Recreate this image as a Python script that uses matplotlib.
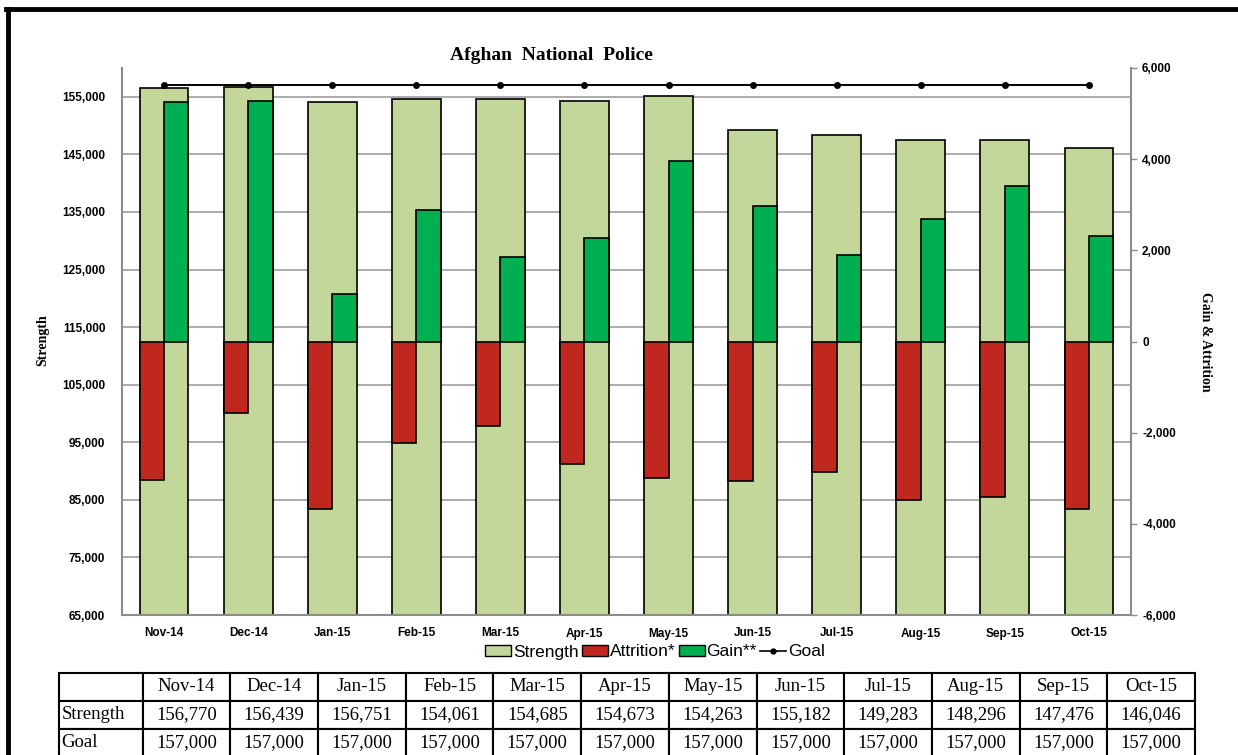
import matplotlib
matplotlib.use('Agg')
import matplotlib.pyplot as plt
from matplotlib.patches import Patch
from matplotlib.lines import Line2D

months = ['Nov-14', 'Dec-14', 'Jan-15', 'Feb-15', 'Mar-15', 'Apr-15',
          'May-15', 'Jun-15', 'Jul-15', 'Aug-15', 'Sep-15', 'Oct-15']
# values as drawn in the chart (bars)
strength = [156440, 156750, 154060, 154690, 154670, 154260,
            155180, 149280, 148300, 147480, 147450, 146050]
goal = [157000, 157000, 157000, 157000, 157000, 157000,
        157000, 157000, 157000, 157000, 157000, 157000]
gain = [5250, 5270, 1040, 2890, 1860, 2270, 3960, 2970, 1900, 2690, 3410, 2310]
attrition = [-3030, -1570, -3680, -2230, -1860, -2690,
             -2990, -3060, -2860, -3480, -3410, -3680]
# values printed in the table under the chart
table_strength = [156770, 156439, 156751, 154061, 154685, 154673,
                  154263, 155182, 149283, 148296, 147476, 146046]
table_goal = [157000, 157000, 157000, 157000, 157000, 157000,
              157000, 157000, 157000, 157000, 157000, 157000]
left_ticks = [65000, 75000, 85000, 95000, 105000, 115000, 125000, 135000, 145000, 155000]
right_ticks = [-6000, -4000, -2000, 0, 2000, 4000, 6000]

C_STR = '#c4d79b'
C_ATT = '#c0281f'
C_GAIN = '#00b050'
GREY = '#8c8c8c'
W, H = 1238, 755

fig = plt.figure(figsize=(W / 100, H / 100), dpi=100)
ax = fig.add_axes([122 / W, 1 - 615 / H, (1131 - 122) / W, (615 - 68) / H])
x = list(range(len(months)))

ax.bar(x, strength, width=0.58, bottom=0, color=C_STR, edgecolor='black', linewidth=1.2, zorder=2)
ax.plot(x, goal, '-o', color='black', markersize=4, linewidth=1.4, zorder=4)
ax.set_ylim(65000, 160000)
ax.set_xlim(-0.5, 11.5)
ax.set_yticks(left_ticks)
ax.set_yticklabels([f'{v:,}' for v in left_ticks])
ax.set_xticks(x)
ax.set_xticklabels(months)
ax.yaxis.grid(True, color='#a6a6a6', linewidth=1.3)
ax.set_axisbelow(True)
ax.tick_params(axis='y', length=0, pad=12, labelsize=8.5)
ax.tick_params(axis='x', length=0, pad=9, labelsize=8.5)
for lab in ax.get_xticklabels() + ax.get_yticklabels():
    lab.set_fontweight('bold')
    lab.set_family('Liberation Sans')
for s in ['top', 'right']:
    ax.spines[s].set_visible(False)
for s in ['left', 'bottom']:
    ax.spines[s].set_color(GREY)
    ax.spines[s].set_linewidth(1.5)

ax2 = ax.twinx()
ax2.bar([i - 0.145 for i in x], attrition, width=0.29, color=C_ATT, edgecolor='black', linewidth=1.2, zorder=2)
ax2.bar([i + 0.145 for i in x], gain, width=0.29, color=C_GAIN, edgecolor='black', linewidth=1.2, zorder=2)
ax2.set_ylim(-6000, 6000)
ax2.set_yticks(right_ticks)
ax2.set_yticklabels([f'{v:,}' for v in right_ticks])
ax2.tick_params(axis='y', length=4, width=1, color=GREY, pad=4, labelsize=8.5)
for lab in ax2.get_yticklabels():
    lab.set_fontweight('bold')
    lab.set_family('Liberation Sans')
for s in ['top', 'left', 'bottom']:
    ax2.spines[s].set_visible(False)
ax2.spines['right'].set_color(GREY)
ax2.spines['right'].set_linewidth(1.5)

fig.text(551 / W, 1 - 55 / H, 'Afghan  National  Police', ha='center', va='center',
         family='Liberation Serif', weight='bold', size=14)
fig.text(43 / W, 1 - 340 / H, 'Strength', rotation=90, ha='center', va='center',
         family='Liberation Serif', weight='bold', size=10)
fig.text(1205 / W, 1 - 342 / H, 'Gain & Attrition', rotation=-90, ha='center', va='center',
         family='Liberation Serif', weight='bold', size=10)

handles = [Patch(facecolor=C_STR, edgecolor='black', linewidth=1),
           Patch(facecolor=C_ATT, edgecolor='black', linewidth=1),
           Patch(facecolor=C_GAIN, edgecolor='black', linewidth=1),
           Line2D([], [], color='black', marker='o', markersize=3.5, linewidth=1.2)]
fig.legend(handles, ['Strength', 'Attrition*', 'Gain**', 'Goal'], ncol=4, loc='center',
           bbox_to_anchor=(655 / W, 1 - 652 / H), frameon=False, handlelength=1.5,
           handleheight=0.6, handletextpad=0.1, columnspacing=0.2,
           prop={'family': 'Liberation Sans', 'size': 12.5})

# table under the chart
tab_ax = fig.add_axes([59 / W, 1 - 757 / H, (1195 - 59) / W, 84.3 / H])
tab_ax.axis('off')
cells = [[''] + months,
         ['Strength'] + [f'{v:,}' for v in table_strength],
         ['Goal'] + [f'{v:,}' for v in table_goal]]
first = 83.7
widths = [first / 1136] + [(1136 - first) / 12 / 1136] * 12
tbl = tab_ax.table(cellText=cells, colWidths=widths, bbox=[0, 0, 1, 1], cellLoc='center')
tbl.auto_set_font_size(False)
for (r, c), cell in tbl.get_celld().items():
    cell.set_linewidth(1.5)
    cell.set_edgecolor('black')
    cell.get_text().set_family('Liberation Serif')
    cell.get_text().set_fontsize(13.5)
    if c == 0:
        cell.get_text().set_ha('left')
        cell.PAD = 0.03

# frame around the figure
fig.add_artist(Line2D([8 / W, 8 / W], [0, 1 - 9 / H], color='black', linewidth=3.5,
                      transform=fig.transFigure))
fig.add_artist(Line2D([6 / W, 1], [1 - 9 / H, 1 - 9 / H], color='black', linewidth=3.5,
                      transform=fig.transFigure))

fig.savefig('out.png', dpi=100)
